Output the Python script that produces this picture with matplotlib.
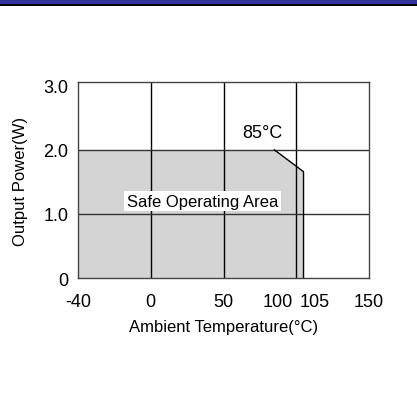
import numpy as np
import matplotlib
matplotlib.use('Agg')
from matplotlib import pyplot as plt
from matplotlib.patches import Rectangle

# temperature axis is drawn piecewise: every grid cell is one section
temp_breaks = [-40, 0, 50, 100, 150]
derating_temp = [-40, 85, 105, 105]
derating_power = [2.0, 2.0, 1.66, 0.0]
x_tick_values = [-40, 0, 50, 100, 105, 150]
x_tick_labels = ['-40', '0', '50', '100', '105', '150']
y_tick_values = [0, 1.0, 2.0, 3.0]
y_tick_labels = ['0', '1.0', '2.0', '3.0']


def to_cell(t):
    return np.interp(t, temp_breaks, np.arange(len(temp_breaks)))


plt.rcParams['font.family'] = ['Liberation Sans', 'DejaVu Sans']

fig = plt.figure(figsize=(4.17, 4.10), dpi=100)
fig.patches.append(Rectangle((0, 1 - 5 / 410), 1, 5 / 410, transform=fig.transFigure,
                             facecolor='#333399', edgecolor='none'))
fig.patches.append(Rectangle((0, 1 - 7 / 410), 1, 2 / 410, transform=fig.transFigure,
                             facecolor='black', edgecolor='none'))

ax = fig.add_axes([78 / 417, 131 / 410, 291 / 417, 196 / 410])

xs = to_cell(derating_temp)
ax.fill(np.append(xs, xs[0]), np.append(derating_power, 0), facecolor='#d4d4d4', edgecolor='none', zorder=1)
ax.plot(xs[1:], derating_power[1:], color='black', lw=1, zorder=3)

for u in [1, 2, 3]:
    ax.axvline(u, color='black', lw=1, zorder=2)
for p in [1.0, 2.0]:
    ax.axhline(p, color='#333333', lw=1, zorder=2)
for s in ax.spines.values():
    s.set_color('#444444')
    s.set_linewidth(1)

ax.set_xlim(0, 4)
ax.set_ylim(0, 3.06)

nudge = {100: -0.26, 105: 0.16}
ax.set_xticks([to_cell(t) + nudge.get(t, 0) for t in x_tick_values])
ax.set_xticklabels(x_tick_labels, fontsize=13)
ax.set_yticks(y_tick_values)
ax.set_yticklabels(y_tick_labels, fontsize=13)
ax.tick_params(length=0)
ax.tick_params(axis='x', pad=10.5)
ax.tick_params(axis='y', pad=7)

ax.set_xlabel('Ambient Temperature(°C)', fontsize=12, labelpad=7)
ax.set_ylabel('Output Power(W)', fontsize=12, labelpad=11)

ax.text(2.53, 2.27, '85°C', fontsize=13, ha='center', va='center', zorder=4)
ax.text(1.71, 1.2, 'Safe Operating Area', fontsize=12, ha='center', va='center', zorder=4,
        bbox=dict(facecolor='white', edgecolor='none', pad=2))

fig.savefig('out.png', dpi=100)
